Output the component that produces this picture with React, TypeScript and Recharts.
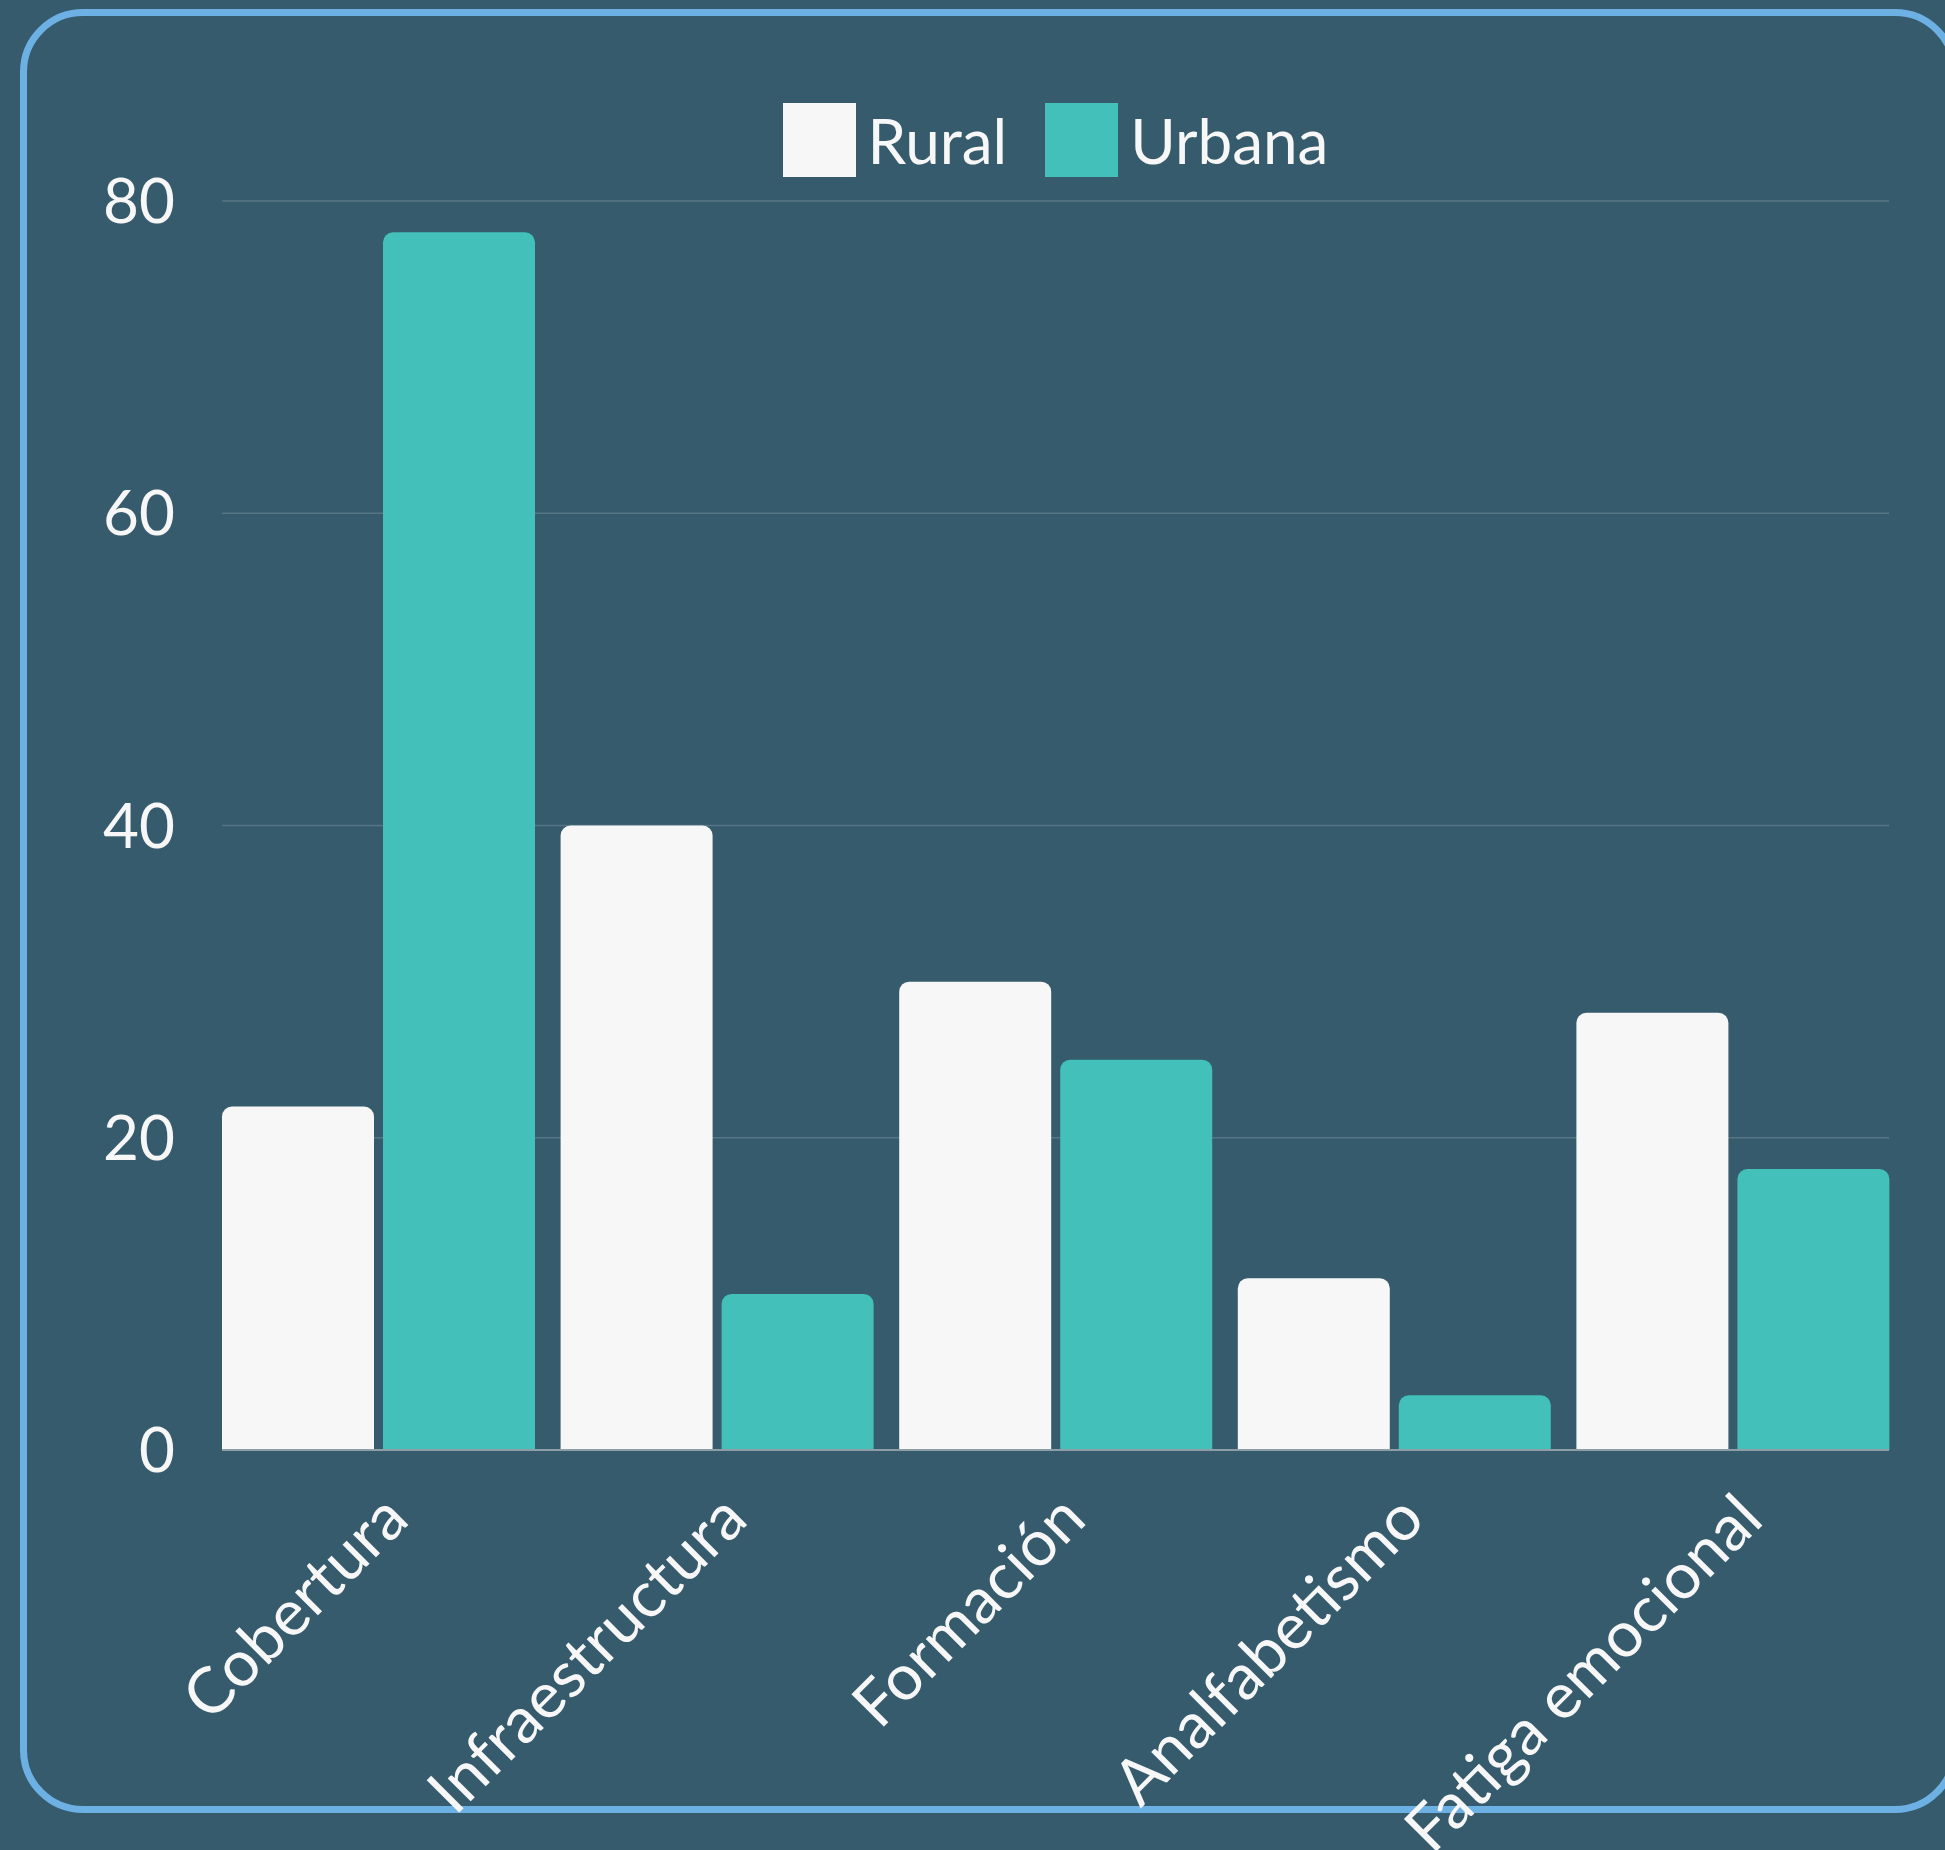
import { BarChart, Bar, XAxis, YAxis, CartesianGrid, Legend } from "recharts";

const categories = [
  "Cobertura",
  "Infraestructura",
  "Formación",
  "Analfabetismo",
  "Fatiga emocional",
];
const rural = [22, 40, 30, 11, 28];
const urbana = [78, 10, 25, 3.5, 18];
const yTicks = [0, 20, 40, 60, 80];

const seriesNames = { rural: "Rural", urbana: "Urbana" };

const BG = "#365b6d";
const RURAL = "#f7f7f7";
const URBANA = "#42c0b9";
const FONT = "Lato, 'DejaVu Sans', sans-serif";

const data = categories.map((name, i) => ({
  name,
  rural: rural[i],
  urbana: urbana[i],
}));

const XTick = ({ x, y, payload }: any) => (
  <g transform={`translate(${x + 33},${y})`}>
    <text
      textAnchor="end"
      transform="rotate(-45)"
      fill="#f7f7f7"
      fontSize={64}
      fontFamily={FONT}
    >
      {payload.value}
    </text>
  </g>
);

const LegendContent = ({ payload }: any) => (
  <div
    style={{
      height: 98,
      display: "flex",
      justifyContent: "center",
      alignItems: "flex-start",
      gap: 38,
      fontFamily: FONT,
      fontSize: 62,
      color: "#f7f7f7",
    }}
  >
    {(payload || []).map((p: any) => (
      <div key={p.value} style={{ display: "flex", alignItems: "center", gap: 12 }}>
        <div style={{ width: 73, height: 74, background: p.color }} />
        <span style={{ lineHeight: "74px" }}>{p.value}</span>
      </div>
    ))}
  </div>
);

export default function App() {
  return (
    <div
      style={{
        position: "absolute",
        left: 0,
        top: 0,
        width: 1945,
        height: 1850,
        background: BG,
        overflow: "hidden",
      }}
    >
      <div
        style={{
          position: "absolute",
          left: 20,
          top: 9,
          width: 1938,
          height: 1804,
          border: "7px solid #6cb0e4",
          borderRadius: 63,
          boxSizing: "border-box",
        }}
      />
      <div style={{ position: "absolute", left: 0, top: 0 }}>
        <BarChart
          width={1945}
          height={1850}
          data={data}
          margin={{ top: 103, right: 56, bottom: 100, left: 0 }}
          barSize={152}
          barGap={9}
          style={{ overflow: "visible" }}
        >
          <CartesianGrid
            vertical={false}
            stroke="rgba(255,255,255,0.17)"
            strokeWidth={1.5}
          />
          <XAxis
            dataKey="name"
            interval={0}
            height={300}
            tickSize={0}
            tickMargin={72}
            tick={<XTick />}
            padding={{ left: -13, right: -13 }}
            axisLine={{ stroke: "#8d9ea7", strokeWidth: 2 }}
          />
          <YAxis
            domain={[0, 80]}
            ticks={yTicks}
            width={222}
            tickSize={0}
            tickMargin={47}
            axisLine={false}
            tick={{ fill: "#f7f7f7", fontSize: 62, fontFamily: FONT }}
          />
          <Legend
            verticalAlign="top"
            content={<LegendContent />}
            wrapperStyle={{ left: 222, width: 1667, top: 103 }}
          />
          <Bar
            dataKey="rural"
            name={seriesNames.rural}
            fill={RURAL}
            radius={[10, 10, 0, 0]}
            isAnimationActive={false}
          />
          <Bar
            dataKey="urbana"
            name={seriesNames.urbana}
            fill={URBANA}
            radius={[10, 10, 0, 0]}
            isAnimationActive={false}
          />
        </BarChart>
      </div>
    </div>
  );
}
